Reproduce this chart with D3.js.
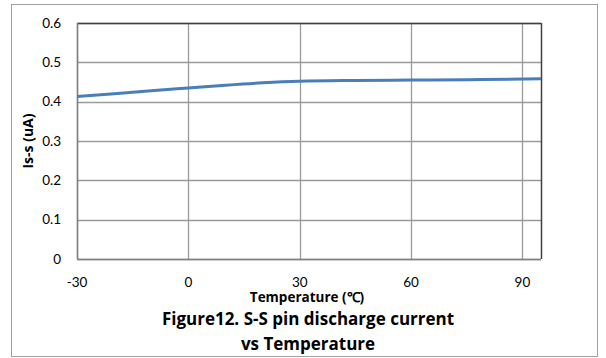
<!DOCTYPE html>
<html><head><meta charset="utf-8">
<script src="https://cdn.jsdelivr.net/npm/d3@7"></script>
<style>
html,body{margin:0;padding:0;background:#fff;}
svg{display:block;font-family:Lato,"Open Sans",sans-serif;}
.b{font-family:"Open Sans",Lato,sans-serif;font-weight:bold;}
</style></head>
<body><svg id="c" width="606" height="358"></svg>
<script>
const temps = [-30, -20, -10, 0, 10, 20, 30, 45, 60, 75, 95];
const current = [0.413, 0.420, 0.428, 0.435, 0.442, 0.448, 0.452, 0.454, 0.455, 0.456, 0.458];
const xTicks = [-30, 0, 30, 60, 90];
const yTicks = [0, 0.1, 0.2, 0.3, 0.4, 0.5, 0.6];
const yTickLabels = ["0", "0.1", "0.2", "0.3", "0.4", "0.5", "0.6"];
const xTitle = "Temperature (℃)";
const yTitle = "Is-s (uA)";
const titleLines = ["Figure12. S-S pin discharge current", "vs Temperature"];

const svg = d3.select("#c");
const L = 77, R = 541, T = 23, B = 259;
const x = d3.scaleLinear().domain([-30, 95]).range([L, R]);
const y = d3.scaleLinear().domain([0, 0.6]).range([B, T]);

// outer frame
svg.append("rect").attr("x", 11.5).attr("y", 4.5).attr("width", 586).attr("height", 352)
  .attr("fill", "#fff").attr("stroke", "#a0a0a0").attr("stroke-width", 1);

// grid
const g = svg.append("g");
g.selectAll("line.h").data(yTicks).join("line")
  .attr("x1", L).attr("x2", R).attr("y1", d => Math.round(y(d)) + 0.5).attr("y2", d => Math.round(y(d)) + 0.5)
  .attr("stroke", "#9a9a9a").attr("stroke-width", 1.3);
g.selectAll("line.v").data(xTicks).join("line")
  .attr("y1", T).attr("y2", B).attr("x1", d => Math.round(x(d)) + 0.5).attr("x2", d => Math.round(x(d)) + 0.5)
  .attr("stroke", "#9a9a9a").attr("stroke-width", 1.3);

// plot border
svg.append("line").attr("x1", L).attr("x2", R).attr("y1", T + 0.5).attr("y2", T + 0.5).attr("stroke", "#404040").attr("stroke-width", 1.5);
svg.append("line").attr("x1", R + 0.5).attr("x2", R + 0.5).attr("y1", T).attr("y2", B).attr("stroke", "#404040").attr("stroke-width", 1.5);
svg.append("line").attr("x1", L + 0.5).attr("x2", L + 0.5).attr("y1", T).attr("y2", B).attr("stroke", "#808080").attr("stroke-width", 1.5);
svg.append("line").attr("x1", L).attr("x2", R).attr("y1", B + 0.5).attr("y2", B + 0.5).attr("stroke", "#808080").attr("stroke-width", 1.5);

// line
svg.append("path").datum(temps.map((t, i) => [t, current[i]]))
  .attr("fill", "none").attr("stroke", "#4a7ebb").attr("stroke-width", 3)
  .attr("d", d3.line().x(d => x(d[0])).y(d => y(d[1])).curve(d3.curveMonotoneX));

// tick labels
svg.selectAll("text.yt").data(yTicks).join("text")
  .attr("x", 61).attr("y", d => y(d)).attr("dy", "0.35em").attr("text-anchor", "end")
  .attr("font-size", 13.5).attr("fill", "#000").text((d, i) => yTickLabels[i]);
svg.selectAll("text.xt").data(xTicks).join("text")
  .attr("x", d => x(d)).attr("y", 282).attr("dy", "0.35em").attr("text-anchor", "middle")
  .attr("font-size", 13.5).attr("fill", "#000").text(d => d);

// axis titles
svg.append("text").attr("class", "b").attr("x", 307).attr("y", 297.5).attr("dy", "0.35em").attr("text-anchor", "middle")
  .attr("font-size", 13.5).text(xTitle);
svg.append("text").attr("class", "b").attr("transform", "translate(28,141) rotate(-90)").attr("dy", "0.35em").attr("text-anchor", "middle")
  .attr("font-size", 14).text(yTitle);

// figure title
svg.selectAll("text.tt").data(titleLines).join("text").attr("class", "b")
  .attr("x", 308).attr("y", (d, i) => 319 + i * 25).attr("dy", "0.35em").attr("text-anchor", "middle")
  .attr("font-size", 17).text(d => d);
</script></body></html>
